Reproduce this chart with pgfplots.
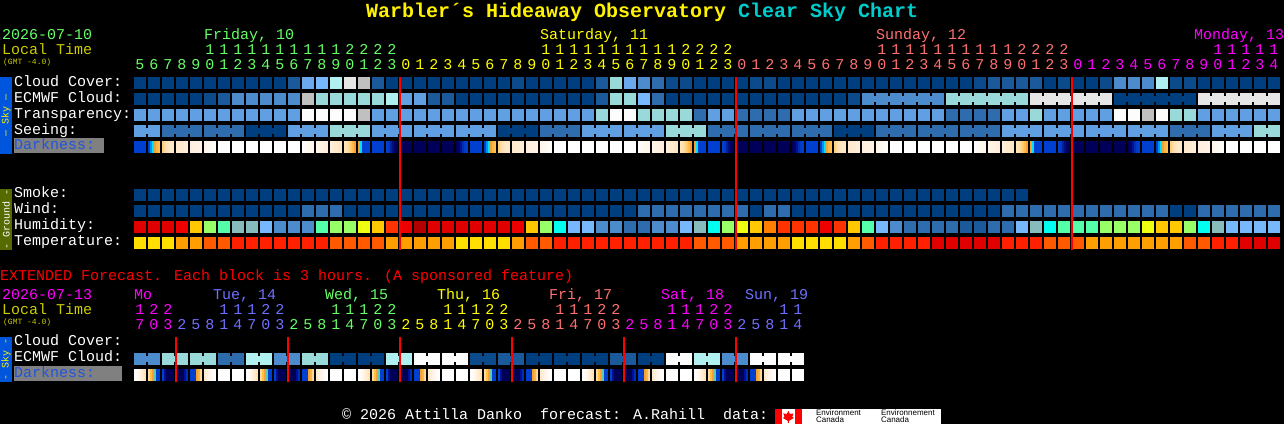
\documentclass[border=0pt]{standalone}
\usepackage{fontspec}
\usepackage{pgfplots}
\usepackage{pgfplotstable}
\pgfplotsset{compat=1.18}
\setmainfont{Liberation Mono}
\newfontfamily\logofont{Liberation Sans}

\definecolor{c0}{HTML}{003F7F}
\definecolor{c1}{HTML}{0C4B8B}
\definecolor{c2}{HTML}{1A5A9A}
\definecolor{c3}{HTML}{2E6CAE}
\definecolor{c4}{HTML}{4C8CCC}
\definecolor{c5}{HTML}{609FE2}
\definecolor{c6}{HTML}{6CA8EC}
\definecolor{c7}{HTML}{77B8FC}
\definecolor{c8}{HTML}{99D9D9}
\definecolor{c9}{HTML}{B0F0F0}
\definecolor{c10}{HTML}{E6E6E6}
\definecolor{c11}{HTML}{C0C0C0}
\definecolor{c12}{HTML}{FCFCFC}
\definecolor{c20}{HTML}{E00000}
\definecolor{c21}{HTML}{EE0000}
\definecolor{c22}{HTML}{B20000}
\definecolor{c23}{HTML}{FF3300}
\definecolor{c24}{HTML}{FF8000}
\definecolor{c25}{HTML}{FFC800}
\definecolor{c26}{HTML}{EEFF11}
\definecolor{c27}{HTML}{99FF66}
\definecolor{c28}{HTML}{55FFAA}
\definecolor{c29}{HTML}{00FFEE}
\definecolor{c30}{HTML}{88BBBB}
\definecolor{c31}{HTML}{FFDE00}
\definecolor{c32}{HTML}{FF9E00}
\definecolor{c33}{HTML}{FF5A00}
\definecolor{c34}{HTML}{FF2000}
\definecolor{dgreen}{HTML}{66FF66}
\definecolor{dyellow}{HTML}{FFFF00}
\definecolor{dsalmon}{HTML}{FF7070}
\definecolor{dmagenta}{HTML}{FF00FF}
\definecolor{dblue}{HTML}{7070FF}
\definecolor{localtime}{HTML}{CCCC00}
\definecolor{titlecyan}{HTML}{00CCCC}
\definecolor{skybar}{HTML}{0055DD}
\definecolor{groundbar}{HTML}{556B00}
\definecolor{darktext}{HTML}{2255DD}

\pgfdeclareplotmark{cell}{\pgfpathrectangle{\pgfpoint{-6bp}{-6bp}}{\pgfpoint{12bp}{12bp}}\pgfusepathqfill}
\pgfdeclareplotmark{link}{\pgfpathrectangle{\pgfpoint{-1bp}{-3bp}}{\pgfpoint{2bp}{6bp}}\pgfusepathqfill}
\pgfdeclareplotmark{stripe}{\pgfpathrectangle{\pgfpoint{-1bp}{-6bp}}{\pgfpoint{2bp}{12bp}}\pgfusepathqfill}

\pgfplotsset{
  palette/.style={
    only marks, mark=#1, scatter, point meta=explicit symbolic,
    scatter/classes={
      -1={mark=none},
      0={mark=#1,color=c0},1={mark=#1,color=c1},2={mark=#1,color=c2},3={mark=#1,color=c3},
      4={mark=#1,color=c4},5={mark=#1,color=c5},6={mark=#1,color=c6},7={mark=#1,color=c7},
      8={mark=#1,color=c8},9={mark=#1,color=c9},10={mark=#1,color=c10},11={mark=#1,color=c11},
      12={mark=#1,color=c12},
      20={mark=#1,color=c20},21={mark=#1,color=c21},22={mark=#1,color=c22},23={mark=#1,color=c23},
      24={mark=#1,color=c24},25={mark=#1,color=c25},26={mark=#1,color=c26},27={mark=#1,color=c27},
      28={mark=#1,color=c28},29={mark=#1,color=c29},30={mark=#1,color=c30},
      31={mark=#1,color=c31},32={mark=#1,color=c32},33={mark=#1,color=c33},34={mark=#1,color=c34}}
  },
}

% one row of blocks: y centre, values
\newcommand\cells[2]{\addplot[palette=cell] table[row sep=\\, x index=0, y index=0, x expr=\coordindex*14+140, y expr=#1, meta=v]{v\\#2};}
% joins between blocks: y centre, first block, values (-1 = no join)
\newcommand\links[3]{\addplot[palette=link] table[row sep=\\, x index=0, y index=0, x expr=(\coordindex+#2)*14+147, y expr=#1, meta=v]{v\\#3};}
% hour digits: baseline, colour, first block, digits
\newcommand\hours[4]{\addplot[only marks, mark=none, nodes near coords, point meta=explicit symbolic,
  nodes near coords style={anchor=base, inner sep=0pt, text=#2, font=\fontsize{15bp}{15bp}\selectfont}]
  table[row sep=\\, x index=0, y index=0, x expr=(\coordindex+#3)*14+140, y expr=#1, meta=h]{h\\#4};}
% darkness: one cycle repeated, y centre, first block
\newcommand\dark[3]{\addplot[only marks, mark=stripe, scatter, point meta=explicit, point meta min=0, point meta max=100,
  scatter/use mapped color={fill=mapped color, draw=none}, restrict x to domain=0:1281]
  table[x index=0, y index=0, x expr={int((\coordindex+0.5)/6)*14+mod(\coordindex,6)*2+135+#2*14}, y expr=#1, meta=m]{#3};}
\newcommand\lab[4]{\node[anchor=base west, inner sep=0pt, text=#3, font=\fontsize{15bp}{15bp}\selectfont] at (axis cs:#1,#2) {#4};}
\newcommand\redline[3]{\addplot[red, line width=2bp, on layer=axis foreground] coordinates {(#1,#2) (#1,#3)};}

% limiting-magnitude style darkness level per 2 px column, 6 per block
\pgfplotstableread[row sep=\\]{m\\
66\\66\\66\\66\\66\\66\\
66\\62\\58\\50\\47\\45\\
42\\38\\34\\31\\30\\29\\
28\\27\\26\\25\\24\\23\\
22\\21\\20\\18\\17\\16\\
14\\12\\10\\8\\6\\4\\
0\\0\\0\\0\\0\\0\\ 0\\0\\0\\0\\0\\0\\ 0\\0\\0\\0\\0\\0\\
0\\0\\0\\0\\0\\0\\ 0\\0\\0\\0\\0\\0\\ 0\\0\\0\\0\\0\\0\\
4\\6\\8\\10\\12\\14\\
15\\16\\18\\20\\21\\22\\
23\\25\\27\\28\\30\\31\\
33\\36\\40\\43\\46\\50\\
50\\58\\66\\66\\66\\66\\
66\\66\\66\\66\\66\\66\\
66\\70\\80\\90\\96\\100\\
100\\100\\100\\100\\100\\100\\ 100\\100\\100\\100\\100\\100\\
100\\100\\100\\100\\100\\100\\ 100\\100\\100\\100\\100\\100\\
100\\95\\85\\75\\68\\66\\
}\dayhours

\pgfplotstableread[row sep=\\]{m\\
2\\6\\12\\20\\27\\32\\
38\\45\\50\\55\\66\\66\\
66\\85\\100\\100\\100\\100\\
100\\100\\100\\100\\85\\75\\
66\\66\\66\\50\\47\\40\\
28\\22\\16\\10\\5\\1\\
0\\0\\0\\0\\0\\0\\ 0\\0\\0\\0\\0\\0\\
}\daythree

\begin{document}
\begin{tikzpicture}
\begin{axis}[
    scale only axis,
    set layers,
    width=1284bp, height=424bp,
    xmin=0, xmax=1284, ymin=0, ymax=424,
    y dir=reverse,
    ticks=none,
    axis line style={draw=none},
    axis background/.style={fill=black},
    clip=false,
    colormap={night}{
      rgb255(0cm)=(255,255,255); rgb255(10cm)=(255,248,240); rgb255(20cm)=(255,240,224);
      rgb255(30cm)=(255,232,200); rgb255(40cm)=(255,216,152); rgb255(45cm)=(255,192,80);
      rgb255(50cm)=(248,160,48); rgb255(58cm)=(0,224,255); rgb255(62cm)=(0,144,240);
      rgb255(66cm)=(0,64,208); rgb255(75cm)=(0,48,176); rgb255(85cm)=(0,16,144);
      rgb255(100cm)=(0,0,88)},
]
% main chart, hourly blocks
\cells{83}{0\\0\\0\\0\\0\\0\\0\\0\\0\\0\\0\\2\\6\\7\\9\\10\\11\\2\\0\\0\\0\\0\\0\\0\\0\\0\\0\\1\\0\\0\\0\\0\\0\\2\\8\\6\\4\\3\\1\\1\\0\\0\\0\\0\\1\\1\\0\\0\\0\\0\\0\\0\\0\\0\\0\\0\\0\\0\\0\\0\\1\\2\\2\\2\\2\\0\\1\\0\\0\\1\\4\\4\\4\\9\\1\\1\\0\\0\\0\\0\\0\\0\\}
\cells{99}{0\\0\\0\\0\\0\\1\\2\\4\\4\\4\\4\\4\\11\\8\\8\\8\\8\\8\\9\\5\\5\\2\\2\\0\\0\\0\\0\\0\\0\\0\\0\\0\\0\\2\\8\\8\\7\\3\\0\\0\\0\\0\\0\\0\\0\\0\\0\\0\\0\\0\\0\\1\\4\\4\\4\\4\\4\\4\\8\\8\\8\\8\\8\\8\\10\\10\\10\\10\\10\\10\\0\\0\\0\\0\\0\\0\\10\\10\\10\\10\\10\\10\\}
\links{99}{52}{4\\4\\4\\4\\4\\-1\\8\\8\\8\\8\\8\\-1\\10\\10\\10\\10\\10\\-1\\0\\0\\0\\0\\0\\-1\\10\\10\\10\\10\\10\\}
\cells{115}{5\\5\\5\\5\\5\\5\\5\\5\\5\\5\\5\\5\\12\\12\\12\\12\\11\\5\\5\\5\\5\\5\\5\\5\\5\\5\\5\\5\\5\\5\\5\\5\\5\\8\\12\\12\\8\\8\\8\\8\\3\\5\\5\\3\\3\\3\\3\\5\\5\\5\\5\\5\\5\\5\\5\\5\\5\\5\\3\\3\\3\\3\\5\\5\\8\\5\\5\\5\\5\\5\\12\\12\\11\\12\\8\\8\\5\\5\\5\\5\\5\\5\\}
\cells{131}{5\\5\\3\\3\\3\\3\\3\\3\\0\\0\\0\\5\\5\\5\\8\\8\\8\\5\\5\\5\\5\\5\\5\\5\\5\\5\\0\\0\\0\\3\\3\\3\\5\\5\\5\\5\\5\\5\\8\\8\\8\\3\\3\\3\\3\\3\\3\\3\\3\\3\\0\\0\\0\\3\\3\\3\\3\\3\\3\\3\\3\\3\\5\\5\\5\\5\\5\\5\\5\\5\\5\\5\\5\\5\\3\\3\\3\\5\\5\\5\\8\\8\\}
\links{131}{0}{5\\-1\\3\\3\\-1\\3\\3\\-1\\0\\0\\-1\\5\\5\\-1\\8\\8\\-1\\5\\5\\-1\\5\\5\\-1\\5\\5\\-1\\0\\0\\-1\\3\\3\\-1\\5\\5\\-1\\5\\5\\-1\\8\\8\\-1\\3\\3\\-1\\3\\3\\-1\\3\\3\\-1\\0\\0\\-1\\3\\3\\-1\\3\\3\\-1\\3\\3\\-1\\5\\5\\-1\\5\\5\\-1\\5\\5\\-1\\5\\5\\-1\\3\\3\\-1\\5\\5\\-1\\8\\}
\dark{147}{0}{\dayhours}
\dark{147}{24}{\dayhours}
\dark{147}{48}{\dayhours}
\dark{147}{72}{\dayhours}
% ground rows
\cells{195}{0\\0\\0\\0\\0\\0\\0\\0\\0\\0\\0\\0\\0\\0\\0\\0\\0\\0\\0\\0\\0\\0\\0\\0\\0\\0\\0\\0\\0\\0\\0\\0\\0\\0\\0\\0\\0\\0\\0\\0\\0\\0\\0\\0\\0\\0\\0\\0\\0\\0\\0\\0\\0\\0\\0\\0\\0\\0\\0\\0\\0\\0\\0\\0\\}
\cells{211}{0\\0\\0\\0\\0\\0\\0\\0\\0\\0\\0\\0\\3\\3\\3\\0\\0\\0\\0\\0\\0\\0\\0\\0\\0\\0\\0\\0\\0\\0\\0\\0\\0\\0\\0\\0\\3\\3\\3\\3\\3\\3\\3\\3\\0\\3\\3\\0\\0\\0\\0\\0\\0\\0\\0\\0\\0\\0\\0\\0\\0\\0\\3\\3\\3\\3\\3\\3\\3\\3\\3\\3\\3\\3\\0\\0\\3\\3\\3\\3\\3\\3\\}
\cells{227}{20\\20\\20\\21\\25\\27\\28\\30\\30\\7\\4\\4\\4\\28\\27\\27\\26\\25\\23\\21\\22\\20\\20\\20\\20\\20\\20\\21\\25\\27\\29\\7\\7\\4\\4\\3\\3\\4\\4\\7\\30\\29\\27\\26\\25\\24\\23\\23\\23\\21\\23\\25\\28\\7\\4\\3\\3\\3\\3\\2\\2\\3\\3\\7\\30\\29\\28\\28\\28\\27\\27\\27\\26\\25\\25\\27\\29\\30\\7\\7\\7\\7\\}
\cells{243}{31\\31\\31\\32\\32\\33\\33\\34\\34\\34\\34\\34\\34\\34\\33\\33\\33\\33\\32\\32\\32\\32\\32\\31\\31\\31\\31\\32\\33\\33\\34\\34\\34\\34\\34\\34\\34\\34\\34\\34\\33\\33\\33\\32\\32\\32\\32\\31\\31\\31\\31\\32\\33\\34\\34\\34\\34\\20\\20\\20\\20\\20\\34\\34\\34\\33\\33\\33\\32\\32\\32\\32\\32\\32\\32\\33\\33\\34\\34\\20\\20\\20\\}
% extended, 3 hour blocks
\cells{359}{4\\4\\8\\8\\8\\8\\3\\3\\9\\9\\4\\4\\8\\8\\0\\0\\0\\0\\9\\9\\12\\12\\12\\12\\1\\1\\2\\2\\0\\0\\0\\0\\0\\0\\2\\2\\0\\0\\12\\12\\9\\9\\4\\4\\12\\12\\12\\12\\}
\links{359}{0}{4\\-1\\8\\-1\\8\\-1\\3\\-1\\9\\-1\\4\\-1\\8\\-1\\0\\-1\\0\\-1\\9\\-1\\12\\-1\\12\\-1\\1\\-1\\2\\-1\\0\\-1\\0\\-1\\0\\-1\\2\\-1\\0\\-1\\12\\-1\\9\\-1\\4\\-1\\12\\-1\\12\\}
\dark{375}{0}{\daythree}
\dark{375}{8}{\daythree}
\dark{375}{16}{\daythree}
\dark{375}{24}{\daythree}
\dark{375}{32}{\daythree}
\dark{375}{40}{\daythree}
% midnight markers
\redline{400}{77}{250}
\redline{736}{77}{250}
\redline{1072}{77}{250}
\redline{176}{337}{382}
\redline{288}{337}{382}
\redline{400}{337}{382}
\redline{512}{337}{382}
\redline{624}{337}{382}
\redline{736}{337}{382}
% hour digits
\hours{70}{dgreen}{0}{5\\6\\7\\8\\9\\0\\1\\2\\3\\4\\5\\6\\7\\8\\9\\0\\1\\2\\3\\}
\hours{55}{dgreen}{5}{1\\1\\1\\1\\1\\1\\1\\1\\1\\1\\2\\2\\2\\2\\}
\hours{70}{dyellow}{19}{0\\1\\2\\3\\4\\5\\6\\7\\8\\9\\0\\1\\2\\3\\4\\5\\6\\7\\8\\9\\0\\1\\2\\3\\}
\hours{55}{dyellow}{29}{1\\1\\1\\1\\1\\1\\1\\1\\1\\1\\2\\2\\2\\2\\}
\hours{70}{dsalmon}{43}{0\\1\\2\\3\\4\\5\\6\\7\\8\\9\\0\\1\\2\\3\\4\\5\\6\\7\\8\\9\\0\\1\\2\\3\\}
\hours{55}{dsalmon}{53}{1\\1\\1\\1\\1\\1\\1\\1\\1\\1\\2\\2\\2\\2\\}
\hours{70}{dmagenta}{67}{0\\1\\2\\3\\4\\5\\6\\7\\8\\9\\0\\1\\2\\3\\4\\}
\hours{55}{dmagenta}{77}{1\\1\\1\\1\\1\\}
\hours{330}{dmagenta}{0}{7\\0\\3\\}
\hours{315}{dmagenta}{0}{1\\2\\2\\}
\hours{330}{dblue}{3}{2\\5\\8\\1\\4\\7\\0\\3\\}
\hours{315}{dblue}{6}{1\\1\\1\\2\\2\\}
\hours{330}{dgreen}{11}{2\\5\\8\\1\\4\\7\\0\\3\\}
\hours{315}{dgreen}{14}{1\\1\\1\\2\\2\\}
\hours{330}{dyellow}{19}{2\\5\\8\\1\\4\\7\\0\\3\\}
\hours{315}{dyellow}{22}{1\\1\\1\\2\\2\\}
\hours{330}{dsalmon}{27}{2\\5\\8\\1\\4\\7\\0\\3\\}
\hours{315}{dsalmon}{30}{1\\1\\1\\2\\2\\}
\hours{330}{dmagenta}{35}{2\\5\\8\\1\\4\\7\\0\\3\\}
\hours{315}{dmagenta}{38}{1\\1\\1\\2\\2\\}
\hours{330}{dblue}{43}{2\\5\\8\\1\\4\\}
\hours{315}{dblue}{46}{1\\1\\}
% side bars and label boxes
\fill[skybar] (axis cs:0,77) rectangle (axis cs:12,154);
\fill[groundbar] (axis cs:0,189) rectangle (axis cs:12,250);
\fill[skybar] (axis cs:0,337) rectangle (axis cs:12,382);
\fill[gray] (axis cs:14,138) rectangle (axis cs:104,153);
\fill[gray] (axis cs:14,366) rectangle (axis cs:122,381);
\node[rotate=90, inner sep=0pt, text=yellow, font=\fontsize{10bp}{10bp}\selectfont] at (axis cs:6,115.5) {--- Sky ---};
\node[rotate=90, inner sep=0pt, text=white, font=\fontsize{10bp}{10bp}\selectfont] at (axis cs:6,219.5) {- Ground -};
\node[rotate=90, inner sep=0pt, text=yellow, font=\fontsize{10bp}{10bp}\selectfont] at (axis cs:6,359.5) {- Sky -};
% title
\node[anchor=base west, inner sep=0pt, text=yellow, font=\fontsize{20bp}{20bp}\selectfont\bfseries] at (axis cs:366,18) {Warbler´s Hideaway Observatory};
\node[anchor=base west, inner sep=0pt, text=titlecyan, font=\fontsize{20bp}{20bp}\selectfont\bfseries] at (axis cs:738,18) {Clear Sky Chart};
% header text
\lab{2}{40}{dgreen}{2026-07-10}
\lab{2}{55}{localtime}{Local Time}
\node[anchor=base west, inner sep=0pt, text=localtime, font=\fontsize{8bp}{8bp}\selectfont] at (axis cs:3,65) {(GMT -4.0)};
\lab{204}{40}{dgreen}{Friday, 10}
\lab{540}{40}{dyellow}{Saturday, 11}
\lab{876}{40}{dsalmon}{Sunday, 12}
\lab{1194}{40}{dmagenta}{Monday, 13}
% row labels
\lab{14}{87}{white}{Cloud Cover:}
\lab{14}{103}{white}{ECMWF Cloud:}
\lab{14}{119}{white}{Transparency:}
\lab{14}{135}{white}{Seeing:}
\lab{14}{150}{darktext}{Darkness:}
\lab{14}{198}{white}{Smoke:}
\lab{14}{214}{white}{Wind:}
\lab{14}{230}{white}{Humidity:}
\lab{14}{246}{white}{Temperature:}
\lab{0}{281}{red}{EXTENDED Forecast. Each block is 3 hours. (A sponsored feature)}
\lab{2}{300}{dmagenta}{2026-07-13}
\lab{2}{315}{localtime}{Local Time}
\node[anchor=base west, inner sep=0pt, text=localtime, font=\fontsize{8bp}{8bp}\selectfont] at (axis cs:3,325) {(GMT -4.0)};
\lab{134}{300}{dmagenta}{Mo}
\lab{213}{300}{dblue}{Tue, 14}
\lab{325}{300}{dgreen}{Wed, 15}
\lab{437}{300}{dyellow}{Thu, 16}
\lab{549}{300}{dsalmon}{Fri, 17}
\lab{661}{300}{dmagenta}{Sat, 18}
\lab{745}{300}{dblue}{Sun, 19}
\lab{14}{346}{white}{Cloud Cover:}
\lab{14}{362}{white}{ECMWF Cloud:}
\lab{14}{378}{darktext}{Darkness:}
% footer
\lab{342}{420}{white}{© 2026 Attilla Danko~~forecast: A.Rahill~~data:}
\fill[white] (axis cs:775,409) rectangle (axis cs:941,424);
\fill[red] (axis cs:775,409) rectangle (axis cs:782,424);
\fill[red] (axis cs:795,409) rectangle (axis cs:802,424);
\fill[red] (axis cs:788.5,411) -- (axis cs:790,414) -- (axis cs:793.5,413.5) -- (axis cs:792.5,417) -- (axis cs:794,418)
  -- (axis cs:789,421) -- (axis cs:789,423) -- (axis cs:788,423) -- (axis cs:788,421) -- (axis cs:783,418)
  -- (axis cs:784.5,417) -- (axis cs:783.5,413.5) -- (axis cs:787,414) -- cycle;
\node[anchor=base west, inner sep=0pt, text=black, font=\fontsize{8bp}{8bp}\logofont] at (axis cs:816,416) {Environment};
\node[anchor=base west, inner sep=0pt, text=black, font=\fontsize{8bp}{8bp}\logofont] at (axis cs:816,423) {Canada};
\node[anchor=base west, inner sep=0pt, text=black, font=\fontsize{8bp}{8bp}\logofont] at (axis cs:881,416) {Environnement};
\node[anchor=base west, inner sep=0pt, text=black, font=\fontsize{8bp}{8bp}\logofont] at (axis cs:881,423) {Canada};
\end{axis}
\end{tikzpicture}
\end{document}
